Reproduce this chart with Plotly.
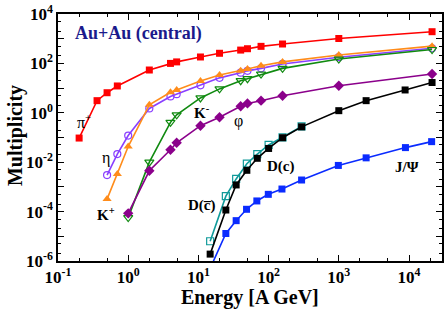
import plotly.graph_objects as go

# ---------------- data ----------------
pi_E = [0.2, 0.36, 0.5, 0.7, 2.0, 4.0, 4.9, 10.7, 20, 40, 50, 78, 158, 1000, 21300]
pi_M = [0.095, 3.1, 6.5, 12.2, 54, 100, 115, 182, 257, 346, 393, 490, 610, 1020, 1920]

kp_E = [0.5, 0.7, 1.0, 2.0, 4.0, 4.9, 10.7, 20, 40, 50, 78, 158, 1000, 21300]
kp_M = [3.2e-4, 3.3e-3, 0.043, 2.1, 6.8, 8.3, 19.4, 34, 50, 59, 81, 115, 219, 500]

eta_E = [0.5, 0.7, 1.0, 2.0, 4.0, 4.9, 10.7, 20, 40, 50, 78, 158, 1000, 21300]
eta_M = [3.0e-3, 0.0214, 0.12, 1.5, 4.6, 5.7, 13, 26, 42, 50, 63, 95, 178, 410]

km_E = [1.0, 2.0, 4.0, 4.9, 10.7, 20, 40, 50, 78, 158, 1000, 21300]
km_M = [5.7e-5, 0.01, 0.41, 0.83, 4.0, 9.3, 20, 24, 37, 63, 150, 365]

phi_E = [1.0, 2.0, 4.0, 4.9, 10.7, 20, 40, 50, 78, 158, 1000, 21300]
phi_M = [8.5e-5, 4.5e-3, 0.032, 0.061, 0.30, 0.66, 1.83, 2.4, 3.1, 4.9, 12.5, 37]

dc_E = [14.7, 24.6, 34.5, 49, 69, 100, 158, 295, 1000, 2450, 8800, 21300]
dc_M = [1.9e-6, 1.16e-4, 1.2e-3, 4.7e-3, 0.0144, 0.036, 0.098, 0.27, 1.22, 3.1, 8.4, 16.8]

dcbar_E = [14.7, 24.6, 34.5, 49, 69, 100, 158, 295]
dcbar_M = [6.3e-6, 4.2e-4, 2.1e-3, 8.7e-3, 0.0214, 0.05, 0.102, 0.28]

jpsi_E = [14.7, 24.6, 34.5, 48.5, 68, 99, 155, 295, 985, 2450, 8900, 21000]
jpsi_M = [5e-7, 1.3e-5, 4.3e-5, 1.24e-4, 2.7e-4, 5.0e-4, 8.2e-4, 1.9e-3, 7.4e-3, 0.015, 0.039, 0.068]

x_tick_vals = [0.1, 1, 10, 100, 1000, 10000]
x_tick_text = ["10<sup>-1</sup>", "10<sup>0</sup>", "10<sup>1</sup>", "10<sup>2</sup>",
               "10<sup>3</sup>", "10<sup>4</sup>"]
y_tick_vals = [1e-6, 1e-5, 1e-4, 1e-3, 1e-2, 1e-1, 1, 10, 100, 1000, 1e4]
y_tick_text = ["10<sup>-6</sup>", "", "10<sup>-4</sup>", "", "10<sup>-2</sup>", "",
               "10<sup>0</sup>", "", "10<sup>2</sup>", "", "10<sup>4</sup>"]

SERIF = "Liberation Serif, Times New Roman, serif"

fig = go.Figure()

def add(name, xs, ys, color, symbol, lw=1.6, msize=7, mline=None):
    marker = dict(color=color, symbol=symbol, size=msize)
    if mline is not None:
        marker["line"] = dict(color=mline, width=1.2)
    fig.add_trace(go.Scatter(x=xs, y=ys, mode="lines+markers", name=name,
                             line=dict(color=color, width=lw), marker=marker))

add("π+", pi_E, pi_M, "#FF0000", "square")
add("η", eta_E, eta_M, "#8A3FFF", "circle-open", msize=7, mline="#8A3FFF")
add("K+", kp_E, kp_M, "#FF8C1A", "triangle-up", msize=8)
add("K-", km_E, km_M, "#108A10", "triangle-down-open", msize=8, mline="#108A10")
add("φ", phi_E, phi_M, "#8B008B", "diamond", msize=8)
add("D(c̄)", dcbar_E, dcbar_M, "#109A9A", "square-open", msize=7, mline="#109A9A")
add("D(c)", dc_E, dc_M, "#000000", "square", msize=7)
add("J/Ψ", jpsi_E, jpsi_M, "#0A2BFF", "square", msize=7)

def lab(text, xp, yp, size=16, color="black", bold=True, angle=0):
    fig.add_annotation(text=text, x=xp, y=yp, xref="paper", yref="paper",
                       showarrow=False, xanchor="center", yanchor="middle",
                       textangle=angle,
                       font=dict(family=SERIF, size=size, color=color,
                                 weight="bold" if bold else "normal"))

lab("Au+Au (central)", 0.2096, 0.923, size=18, color="#1A1A8C")
lab("π<sup>+</sup>", 0.0677, 0.567, size=16, bold=False)
lab("η", 0.124, 0.417, size=16, bold=False)
lab("K<sup>+</sup>", 0.125, 0.190, size=15)
lab("K<sup>-</sup>", 0.375, 0.603, size=15)
lab("φ", 0.469, 0.567, size=16, bold=False)
lab("D(c\u0305)", 0.374, 0.223, size=15)
lab("D(c)", 0.579, 0.381, size=15)
lab("J/Ψ", 0.908, 0.381, size=15)

# axis titles
lab("Energy [A GeV]", 0.50, -0.146, size=20)
lab("Multiplicity", -0.112, 0.51, size=20, angle=-90)

axis_common = dict(
    type="log", showline=True, linecolor="black", linewidth=1.5, mirror="allticks",
    ticks="inside", ticklen=6, tickwidth=1.2, tickcolor="black",
    showgrid=False, zeroline=False, automargin=False,
    tickfont=dict(family=SERIF, size=17, color="black", weight="bold"),
    minor=dict(ticks="inside", ticklen=3, tickwidth=1, tickcolor="black", showgrid=False),
)

fig.update_layout(
    width=444, height=309,
    margin=dict(l=58, r=2, t=14, b=48),
    paper_bgcolor="white", plot_bgcolor="white",
    showlegend=False,
    xaxis=dict(axis_common, range=[-1, 4.47], tickmode="array",
               tickvals=x_tick_vals, ticktext=x_tick_text),
    yaxis=dict(axis_common, range=[-6, 4], tickmode="array",
               tickvals=y_tick_vals, ticktext=y_tick_text),
)

fig.write_html("out.html",
               config={"displayModeBar": False},
               post_script="document.body.style.margin='0';document.body.style.overflow='hidden';")
